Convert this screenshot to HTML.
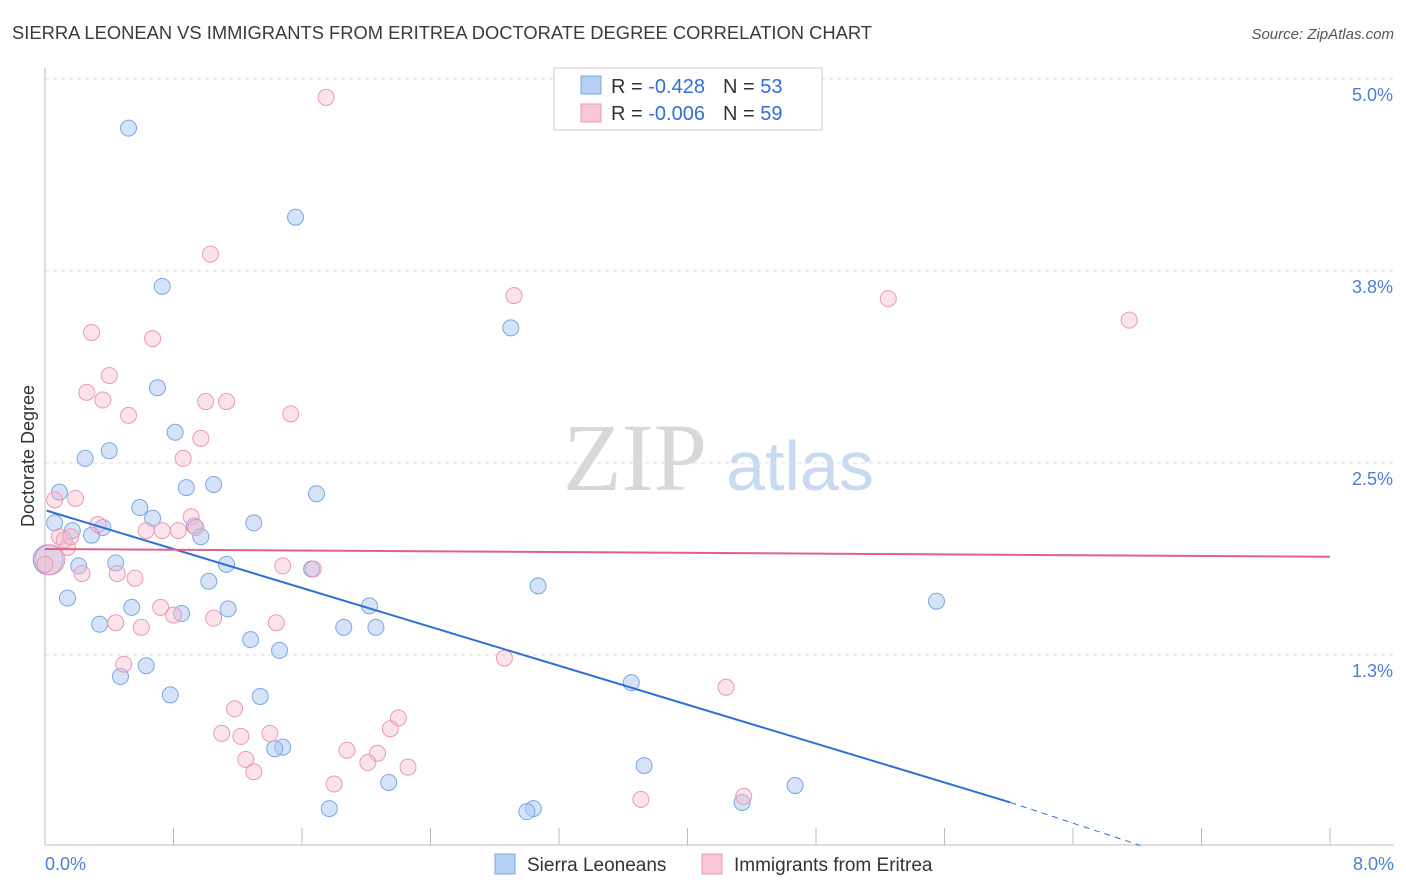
<!DOCTYPE html>
<html><head><meta charset="utf-8">
<style>
body{margin:0;background:#fff;font-family:"Liberation Sans",sans-serif;}
svg{display:block}
</style></head><body>
<svg id="chart" width="1406" height="892">
<text x="12" y="39" font-size="18" fill="#3a3a3a" textLength="860" lengthAdjust="spacingAndGlyphs">SIERRA LEONEAN VS IMMIGRANTS FROM ERITREA DOCTORATE DEGREE CORRELATION CHART</text>
<text x="1394" y="39" font-size="15" fill="#555" text-anchor="end" font-style="italic">Source: ZipAtlas.com</text>
<text x="635" y="490" font-size="96" fill="#d8d8d8" font-family="Liberation Serif,serif" text-anchor="middle">ZIP</text>
<text x="800" y="490" font-size="70" fill="#c9d9f0" text-anchor="middle">atlas</text>
<text transform="translate(34,456) rotate(-90)" font-size="18" fill="#333" text-anchor="middle">Doctorate Degree</text>
<g id="grid"></g><g id="marks"></g>
<g>
<rect x="554" y="68" width="268" height="62" fill="#fff" stroke="#ccc"/>
<rect x="581" y="76" width="20" height="18" fill="#b6d0f3" stroke="#7ba7e0"/>
<rect x="581" y="104" width="20" height="18" fill="#f8c6d6" stroke="#e89ab4"/>
<text x="611" y="93" font-size="20" fill="#333">R = <tspan fill="#2f6fd6">-0.428</tspan><tspan dx="18">N = </tspan><tspan fill="#2f6fd6">53</tspan></text>
<text x="611" y="120" font-size="20" fill="#333">R = <tspan fill="#2f6fd6">-0.006</tspan><tspan dx="18">N = </tspan><tspan fill="#2f6fd6">59</tspan></text>
</g>
<g>
<rect x="495" y="854" width="20" height="20" fill="#b6d0f3" stroke="#7ba7e0"/>
<text x="527" y="871" font-size="19" fill="#333">Sierra Leoneans</text>
<rect x="702" y="854" width="20" height="20" fill="#f8c6d6" stroke="#e89ab4"/>
<text x="734" y="871" font-size="19" fill="#333">Immigrants from Eritrea</text>
</g>
<text x="45" y="870" font-size="18" fill="#4a7fd4">0.0%</text>
<text x="1394" y="870" font-size="18" fill="#4a7fd4" text-anchor="end">8.0%</text>
</svg>
<script>
const yTicks=[5.0,3.75,2.5,1.25];
const yTickLabels=["5.0%","3.8%","2.5%","1.3%"];
const xTicks=[0,0.8,1.6,2.4,3.2,4.0,4.8,5.6,6.4,7.2,8.0];
const blueX=[0.52,1.56,0.73,2.90,0.70,0.81,0.40,0.25,0.88,1.05,1.69,0.09,0.59,0.67,0.93,1.30,0.06,0.17,0.36,0.29,0.97,0.44,1.13,1.66,0.21,3.07,1.02,0.14,5.55,0.54,1.14,2.02,0.85,0.34,1.86,2.06,1.28,1.46,0.63,0.47,3.65,0.78,1.34,1.48,1.43,3.73,2.14,4.67,4.34,3.04,3.00,1.77,0.02];
const blueY=[4.68,4.10,3.65,3.38,2.99,2.70,2.58,2.53,2.34,2.36,2.30,2.31,2.21,2.14,2.09,2.11,2.11,2.06,2.08,2.03,2.02,1.85,1.84,1.81,1.83,1.70,1.73,1.62,1.60,1.56,1.55,1.57,1.52,1.45,1.43,1.43,1.35,1.28,1.18,1.11,1.07,0.99,0.98,0.65,0.64,0.53,0.42,0.40,0.29,0.25,0.23,0.25,1.87];
const pinkX=[1.75,1.03,2.92,5.25,6.75,0.29,0.67,0.40,0.26,0.36,1.00,1.13,0.52,1.53,0.97,0.86,0.19,0.06,0.91,0.33,0.63,0.73,0.83,0.94,0.09,0.14,0.03,0.23,0.45,0.56,1.48,1.67,0.72,0.80,1.05,1.44,0.44,0.60,2.86,0.49,4.24,1.18,2.20,2.15,1.10,1.22,1.40,1.88,2.07,1.25,2.01,2.26,1.30,1.80,4.35,3.71,0.12,0.16,0.00];
const pinkY=[4.88,3.86,3.59,3.57,3.43,3.35,3.31,3.07,2.96,2.91,2.90,2.90,2.81,2.82,2.66,2.53,2.27,2.26,2.15,2.10,2.06,2.06,2.06,2.08,2.02,1.95,1.87,1.78,1.78,1.75,1.83,1.81,1.56,1.51,1.49,1.46,1.46,1.43,1.23,1.19,1.04,0.90,0.84,0.77,0.74,0.72,0.74,0.63,0.61,0.57,0.55,0.52,0.49,0.41,0.33,0.31,2.00,2.02,1.84];
const blueTrend=[[0.01,2.19],[6.01,0.29],[6.82,0.01]];
const pinkTrend=[[0,1.94],[8,1.89]];
const NS="http://www.w3.org/2000/svg";
const X0=45,X1=1330,Y0=847;
const sx=v=>X0+(X1-X0)*v/8;
const sy=v=>Y0-v*153.6;
function mk(tag,attrs,parent){const e=document.createElementNS(NS,tag);for(const k in attrs)e.setAttribute(k,attrs[k]);parent.appendChild(e);return e;}
const grid=document.getElementById('grid'),marks=document.getElementById('marks');
yTicks.forEach((t,i)=>{
 const l=mk('line',{x1:X0,x2:1394,y1:sy(t),y2:sy(t),stroke:'#ddd','stroke-dasharray':'4,4'},grid);
 
 
 const tx=mk('text',{x:1393,y:sy(t)+22,'font-size':18,fill:'#4a7fd4','text-anchor':'end'},grid);
 tx.textContent=yTickLabels[i];
 
 
});
const ax=mk('line',{x1:X0,x2:1394,y1:845,y2:845,stroke:'#bbb'},grid);


const ay=mk('line',{x1:X0,x2:X0,y1:68,y2:845,stroke:'#bbb'},grid);


xTicks.forEach(t=>{
 const l=mk('line',{x1:sx(t),x2:sx(t),y1:828,y2:845,stroke:'#bbb'},grid);
 
 
});
function pts(xs,ys,fill,stroke,name,bigIdx){
 xs.forEach((x,i)=>{
  const c=mk('circle',{cx:sx(x),cy:sy(ys[i]),r:i===bigIdx?15:8,fill:fill,stroke:stroke,'stroke-width':1},marks);
  
  
 });
}
pts(blueX,blueY,'rgba(170,200,242,0.5)','#7ba7e0','sierra-leonean-point',52);
pts(pinkX,pinkY,'rgba(247,185,205,0.4)','#e89ab4','eritrea-point',26);
const bt=mk('line',{x1:sx(blueTrend[0][0]),y1:sy(blueTrend[0][1]),x2:sx(blueTrend[1][0]),y2:sy(blueTrend[1][1]),stroke:'#2f6fd6','stroke-width':2},marks);


const bd=mk('line',{x1:sx(blueTrend[1][0]),y1:sy(blueTrend[1][1]),x2:sx(blueTrend[2][0]),y2:sy(blueTrend[2][1]),stroke:'#2f6fd6','stroke-width':1,'stroke-dasharray':'6,5'},marks);


const pt=mk('line',{x1:sx(pinkTrend[0][0]),y1:sy(pinkTrend[0][1]),x2:sx(pinkTrend[1][0]),y2:sy(pinkTrend[1][1]),stroke:'#e0608c','stroke-width':2},marks);


</script>
</body></html>
